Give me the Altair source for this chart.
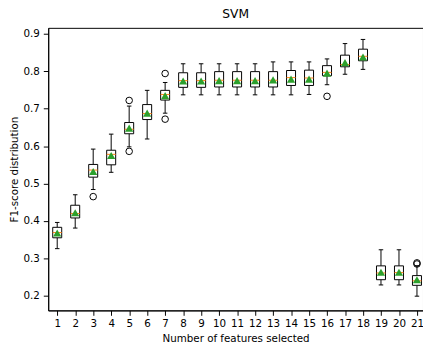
import altair as alt
import pandas as pd

features = list(range(1, 22))
whislo = [0.326, 0.381, 0.484, 0.530, 0.598, 0.619, 0.688, 0.737, 0.737, 0.737, 0.737, 0.737,
          0.737, 0.737, 0.738, 0.764, 0.792, 0.805, 0.229, 0.229, 0.199]
q1 = [0.355, 0.408, 0.517, 0.550, 0.633, 0.671, 0.723, 0.757, 0.757, 0.758, 0.758, 0.758,
      0.758, 0.762, 0.762, 0.788, 0.812, 0.828, 0.243, 0.243, 0.228]
med = [0.369, 0.420, 0.536, 0.578, 0.645, 0.687, 0.738, 0.775, 0.775, 0.776, 0.776, 0.776,
       0.776, 0.783, 0.782, 0.797, 0.818, 0.840, 0.261, 0.262, 0.240]
q3 = [0.383, 0.442, 0.551, 0.589, 0.663, 0.711, 0.749, 0.796, 0.796, 0.799, 0.799, 0.799,
      0.799, 0.802, 0.803, 0.815, 0.843, 0.859, 0.280, 0.280, 0.254]
whishi = [0.396, 0.470, 0.592, 0.632, 0.707, 0.749, 0.770, 0.820, 0.820, 0.820, 0.820, 0.820,
          0.825, 0.825, 0.825, 0.833, 0.874, 0.885, 0.323, 0.323, 0.280]
means = [0.368, 0.422, 0.532, 0.575, 0.648, 0.688, 0.735, 0.774, 0.774, 0.775, 0.775, 0.775,
         0.777, 0.779, 0.779, 0.795, 0.823, 0.838, 0.263, 0.263, 0.243]

outlier_features = [3, 5, 5, 7, 7, 16, 21, 21]
outlier_values = [0.465, 0.722, 0.586, 0.794, 0.672, 0.733, 0.288, 0.285]

df = pd.DataFrame({"n": features, "lo": whislo, "q1": q1, "med": med, "q3": q3,
                   "hi": whishi, "mean": means})
dfo = pd.DataFrame({"n": outlier_features, "v": outlier_values})

FONT = "DejaVu Sans"
xs = alt.Scale(domain=[0.5, 21.336], nice=False, zero=False)
ys = alt.Scale(domain=[0.161, 0.916], nice=False, zero=False)
xax = alt.Axis(values=features, format="d", title="Number of features selected",
               grid=False, labelFlush=False)
yax = alt.Axis(values=[0.2, 0.3, 0.4, 0.5, 0.6, 0.7, 0.8, 0.9], format=".1f",
               title="F1-score distribution", grid=False)

def X(field):
    return alt.X(field, type="quantitative", scale=xs, axis=xax)

def Y(field):
    return alt.Y(field, type="quantitative", scale=ys, axis=yax)

base = alt.Chart(df).transform_calculate(
    xl="datum.n - 0.25", xr="datum.n + 0.25",
    cl="datum.n - 0.125", cr="datum.n + 0.125")

wh_lo = base.mark_rule(color="black", strokeWidth=1).encode(x=X("n"), y=Y("lo"), y2="q1")
wh_hi = base.mark_rule(color="black", strokeWidth=1).encode(x=X("n"), y=Y("q3"), y2="hi")
cap_lo = base.mark_rule(color="black", strokeWidth=1).encode(x=X("cl"), x2="cr", y=Y("lo"))
cap_hi = base.mark_rule(color="black", strokeWidth=1).encode(x=X("cl"), x2="cr", y=Y("hi"))
box = base.mark_rect(fill="white", stroke="black", strokeWidth=1).encode(
    x=X("xl"), x2="xr", y=Y("q1"), y2="q3")
median = base.mark_rule(color="#ff7f0e", strokeWidth=1).encode(x=X("xl"), x2="xr", y=Y("med"))
mean = base.mark_point(shape="triangle-up", filled=True, color="#2ca02c", size=70, opacity=1).encode(
    x=X("n"), y=Y("mean"))
outl = alt.Chart(dfo).mark_point(shape="circle", filled=False, color="black", size=45,
                                 strokeWidth=1, opacity=1).encode(x=X("n"), y=Y("v"))

chart = alt.layer(wh_lo, wh_hi, cap_lo, cap_hi, box, median, mean, outl).properties(
    width=382, height=288,
    title=alt.TitleParams("SVM", font=FONT, fontSize=12.5, fontWeight="normal", color="black",
                          anchor="middle", offset=8),
    autosize=alt.AutoSizeParams(type="none"),
    padding={"left": 41, "top": 17, "right": 0, "bottom": 30},
).configure_view(stroke="black", strokeWidth=1).configure_axis(
    domainColor="black", tickColor="black", labelColor="black", titleColor="black",
    labelFont=FONT, titleFont=FONT, labelFontSize=10.5, titleFontSize=10.5,
    titleFontWeight="normal", tickSize=5, labelPadding=3
).configure_axisX(titlePadding=5).configure_axisY(labelPadding=4, titlePadding=4)

chart.save("out.html", embed_options={"renderer": "svg", "actions": False})
